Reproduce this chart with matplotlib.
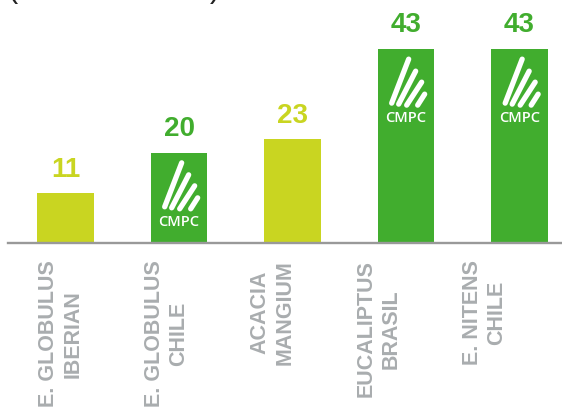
import matplotlib
matplotlib.use("Agg")
import matplotlib.pyplot as plt
import matplotlib.transforms as mtransforms
from matplotlib.lines import Line2D

plt.rcParams['font.family'] = ['Liberation Sans', 'DejaVu Sans']

# datos
categorias = ["E. GLOBULUS\nIBERIAN", "E. GLOBULUS\nCHILE", "ACACIA\nMANGIUM",
              "EUCALIPTUS\nBRASIL", "E. NITENS\nCHILE"]
valores = [11, 20, 23, 43, 43]
es_cmpc = [False, True, False, True, True]
unidad = "(m³ ssc/ha/año)"

AMARILLO = '#c9d521'
VERDE = '#41ad2e'
GRIS = '#a9adaf'

fig = plt.figure(figsize=(5.62, 4.09), dpi=100)
ax = fig.add_axes([8 / 562, 166 / 409, 1 - 8 / 562, 1 - 166 / 409])

x = list(range(len(valores)))
colores = [VERDE if c else AMARILLO for c in es_cmpc]
ax.bar(x, valores, width=0.5, color=colores, zorder=2)

ax.set_xlim(-0.507, 4.374)
ax.set_ylim(0, 53.9)
for s in ['top', 'right', 'left']:
    ax.spines[s].set_visible(False)
ax.spines['bottom'].set_color('#999999')
ax.spines['bottom'].set_linewidth(1.7)
ax.spines['bottom'].set_zorder(3)
ax.set_xticks([])
ax.set_yticks([])

# valores sobre las barras
for xi, v, col in zip(x, valores, colores):
    ax.annotate(str(v), (xi, v), xytext=(0, 12), textcoords='offset points',
                ha='center', va='baseline', fontsize=20, fontweight='bold',
                color=col, annotation_clip=False)

# etiquetas de categoria (rotadas)
for i, cat in enumerate(categorias):
    xl = -0.044 + i * 0.934
    ax.annotate(cat, (xl, 0), xytext=(0, -12.5), textcoords='offset points',
                rotation=90, ha='center', va='top', multialignment='center',
                fontsize=15.5, fontweight='bold', color=GRIS, linespacing=1.25,
                annotation_clip=False)

# logo CMPC dentro de las barras verdes (pixeles desde la esquina sup. izq. de la barra)
rayas = [((14, 54), (31, 10)), ((21, 55), (38, 22)), ((29, 56), (44, 33)), ((40, 56), (47, 45))]
for xi, v, c in zip(x, valores, es_cmpc):
    if not c:
        continue
    trans = fig.dpi_scale_trans + mtransforms.ScaledTranslation(xi - 0.25, v, ax.transData)
    for (x0, y0), (x1, y1) in rayas:
        ln = Line2D([x0 / 100, x1 / 100], [-y0 / 100, -y1 / 100], transform=trans,
                    color='white', linewidth=3.8, solid_capstyle='round', zorder=4)
        ax.add_line(ln)
    ax.annotate('CMPC', (xi, v), xytext=(0, -49.5), textcoords='offset points',
                ha='center', va='center', fontsize=10.5, fontweight='semibold', color='white',
                family=['Open Sans', 'DejaVu Sans'], zorder=4, annotation_clip=False)

# titulo cortado arriba
fig.text(8 / 562, 1 + 3 / 409, unidad, fontsize=22, color='#222222', va='baseline', ha='left')

fig.savefig('out.png', dpi=100)
